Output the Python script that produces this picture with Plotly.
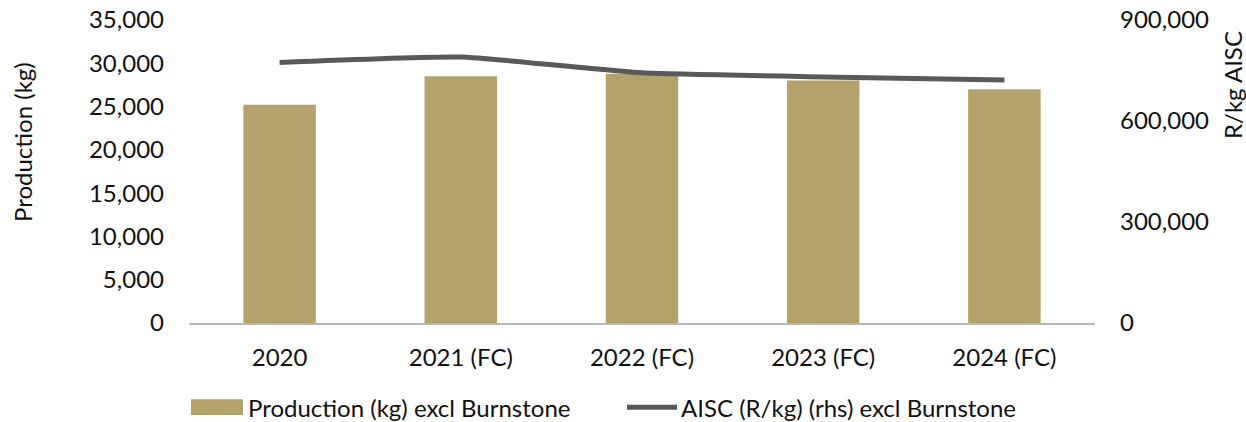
import plotly.graph_objects as go

# Annual figures excluding Burnstone
categories = ["2020", "2021 (FC)", "2022 (FC)", "2023 (FC)", "2024 (FC)"]
production_kg = [25200, 28500, 28800, 28000, 27000]
aisc_r_per_kg = [774000, 790000, 743000, 731000, 722000]

left_ticks = [0, 5000, 10000, 15000, 20000, 25000, 30000, 35000]
right_ticks = [0, 300000, 600000, 900000]

BAR_COLOR = "#B3A269"
LINE_COLOR = "#595959"
TEXT_COLOR = "#111111"
FONT = "Lato"
FS = 24

fig = go.Figure()

fig.add_trace(go.Bar(
    x=categories,
    y=production_kg,
    name="Production (kg) excl Burnstone",
    marker=dict(color=BAR_COLOR, line=dict(width=0)),
    width=0.4,
    showlegend=False,
    yaxis="y",
))

fig.add_trace(go.Scatter(
    x=categories,
    y=aisc_r_per_kg,
    name="AISC (R/kg) (rhs) excl Burnstone",
    mode="lines",
    line=dict(color=LINE_COLOR, width=5, shape="spline", smoothing=0.45),
    showlegend=False,
    yaxis="y2",
))

# Legend drawn as shapes + text below the x-axis labels
legend_y = -0.278
fig.add_shape(type="rect", xref="paper", yref="paper",
              x0=(191 - 189) / 906, x1=(243 - 189) / 906,
              y0=legend_y - 0.026, y1=legend_y + 0.026,
              fillcolor=BAR_COLOR, line=dict(width=0))
fig.add_annotation(xref="paper", yref="paper", x=(246 - 189) / 906, y=legend_y,
                   text="Production (kg) excl Burnstone", showarrow=False,
                   xanchor="left", yanchor="middle",
                   font=dict(family=FONT, size=FS, color=TEXT_COLOR))
fig.add_shape(type="line", xref="paper", yref="paper",
              x0=(627 - 189) / 906, x1=(677 - 189) / 906,
              y0=legend_y, y1=legend_y,
              line=dict(color=LINE_COLOR, width=5))
fig.add_annotation(xref="paper", yref="paper", x=(679 - 189) / 906, y=legend_y,
                   text="AISC (R/kg) (rhs) excl Burnstone", showarrow=False,
                   xanchor="left", yanchor="middle",
                   font=dict(family=FONT, size=FS, color=TEXT_COLOR))

# Axis titles
fig.add_annotation(xref="paper", yref="paper", x=(22 - 189) / 906, y=(323 - 142) / 303,
                   text="Production (kg)", textangle=-90, showarrow=False,
                   xanchor="center", yanchor="middle",
                   font=dict(family=FONT, size=FS, color=TEXT_COLOR))
fig.add_annotation(xref="paper", yref="paper", x=(1232 - 189) / 906, y=(323 - 85) / 303,
                   text="R/kg AISC", textangle=-90, showarrow=False,
                   xanchor="center", yanchor="middle",
                   font=dict(family=FONT, size=FS, color=TEXT_COLOR))

fig.update_layout(
    width=1246,
    height=422,
    margin=dict(l=189, r=151, t=20, b=99, autoexpand=False),
    paper_bgcolor="white",
    plot_bgcolor="white",
    font=dict(family=FONT, size=FS, color=TEXT_COLOR),
    xaxis=dict(
        type="category",
        automargin=False,
        showline=True,
        linecolor="#B4B8BC",
        linewidth=2,
        showgrid=False,
        ticks="",
        ticklabelstandoff=12,
        tickfont=dict(family=FONT, size=FS, color=TEXT_COLOR),
    ),
    yaxis=dict(
        range=[0, 35000],
        automargin=False,
        tickvals=left_ticks,
        tickformat=",",
        showgrid=False,
        zeroline=False,
        showline=False,
        ticks="",
        ticklabelstandoff=24,
        tickfont=dict(family=FONT, size=FS, color=TEXT_COLOR),
    ),
    yaxis2=dict(
        range=[0, 900000],
        automargin=False,
        tickvals=right_ticks,
        tickformat=",",
        overlaying="y",
        side="right",
        showgrid=False,
        zeroline=False,
        showline=False,
        ticks="",
        ticklabelstandoff=24,
        tickfont=dict(family=FONT, size=FS, color=TEXT_COLOR),
    ),
)

fig.write_html("out.html")
